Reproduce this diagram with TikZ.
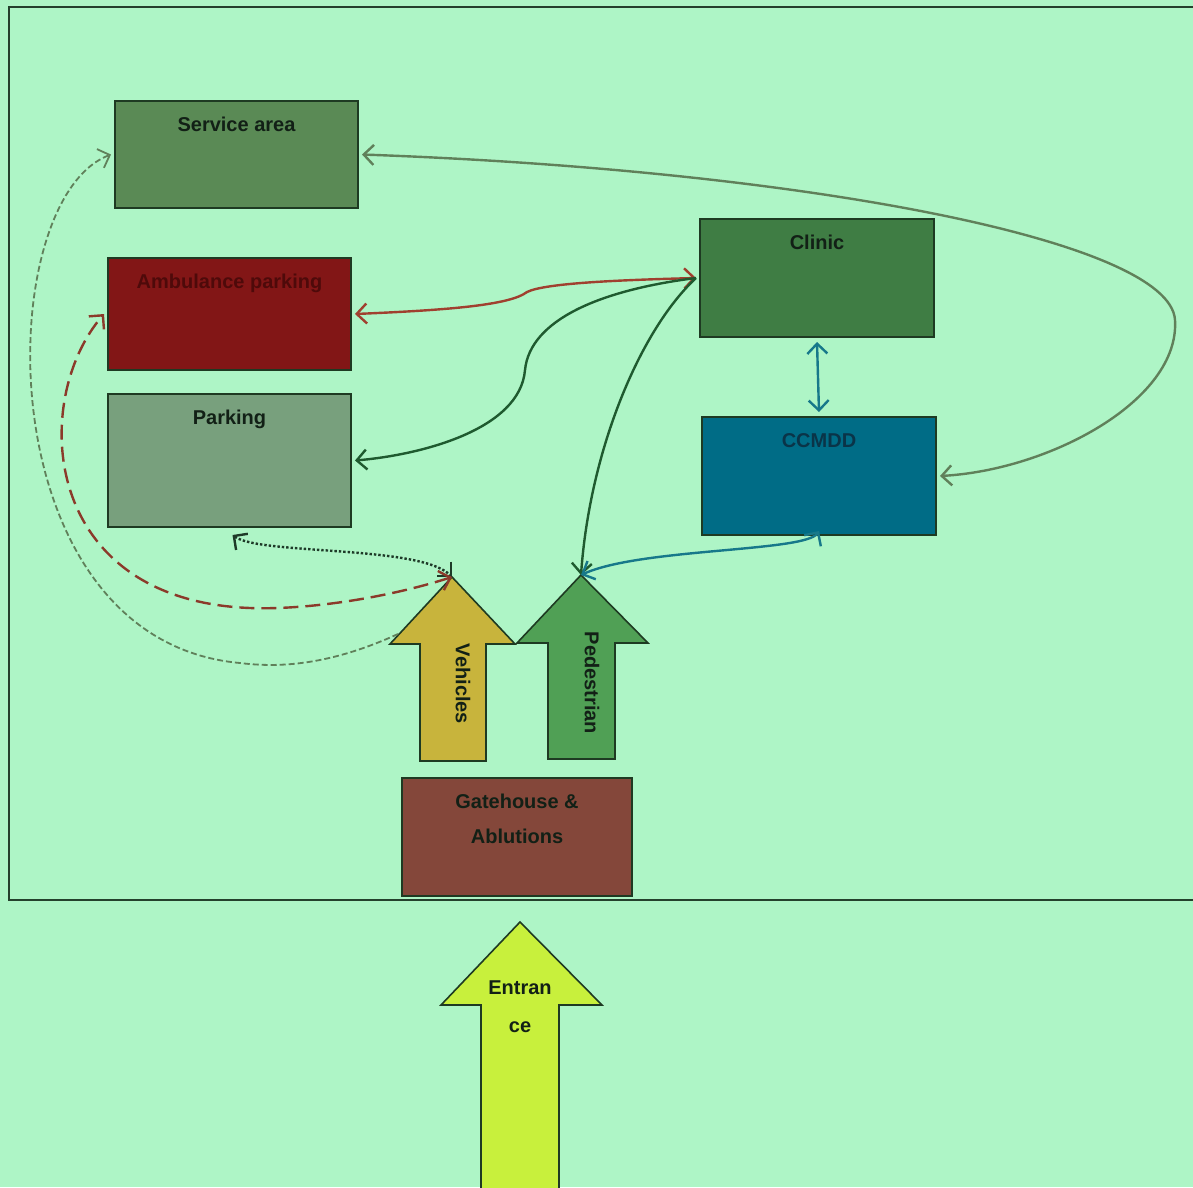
\documentclass[tikz,border=0pt]{standalone}
\usepackage{fontspec}
\setmainfont{Liberation Sans}
\usetikzlibrary{arrows.meta}
\definecolor{bg}{HTML}{AEF5C6}
\definecolor{frameline}{HTML}{24402C}
\definecolor{boxline}{HTML}{1E3A22}
\definecolor{saC}{HTML}{5A8A55}
\definecolor{ambC}{HTML}{821616}
\definecolor{parkC}{HTML}{78A07D}
\definecolor{clinicC}{HTML}{3F7D44}
\definecolor{ccmddC}{HTML}{006C86}
\definecolor{gateC}{HTML}{84473A}
\definecolor{vehC}{HTML}{C8B43C}
\definecolor{pedC}{HTML}{50A055}
\definecolor{entC}{HTML}{C8F03C}
\definecolor{txt}{HTML}{122016}
\definecolor{ambTxt}{HTML}{4E0A0A}
\definecolor{ccTxt}{HTML}{0A3448}
\definecolor{grayG}{HTML}{60805A}
\definecolor{redB}{HTML}{A0402F}
\definecolor{redD}{HTML}{8B3A2A}
\definecolor{darkG}{HTML}{1F5A2F}
\definecolor{tealL}{HTML}{17788A}
\definecolor{dotC}{HTML}{1E3A28}
\begin{document}
\begin{tikzpicture}[x=1pt,y=-1pt,
  box/.style={draw=boxline, line width=2pt, inner sep=0pt},
  lbl/.style={anchor=north, yshift=-17pt, inner sep=0pt, font=\fontsize{20}{35}\selectfont\bfseries, text=txt, align=center},
  blockarrow/.style={draw=boxline, line width=1.6pt, line join=miter},
  btxt/.style={inner sep=0pt, font=\fontsize{20}{24}\selectfont\bfseries, text=txt},
  tip/.style={arrows={Straight Barb[length=10pt,width=20pt]-Straight Barb[length=10pt,width=20pt]}},
  endtip/.style={arrows={-Straight Barb[length=10pt,width=20pt]}},
  conn/.style={line width=2.4pt}
]
\fill[bg] (0,0) rectangle (1193,1187);
\useasboundingbox (0,0) rectangle (1193,1187);

% site frame (open on the right, running off the page)
\draw[frameline, line width=2.2pt] (1200,7) -- (9,7) -- (9,900) -- (1200,900);

% boxes
\node[box, fill=saC, minimum width=243pt, minimum height=107pt,
  label={[lbl]north:Service area}] (sa) at (236.5,154.5) {};
\node[box, fill=ambC, minimum width=243pt, minimum height=112pt,
  label={[lbl,text=ambTxt]north:Ambulance parking}] (amb) at (229.5,314) {};
\node[box, fill=parkC, minimum width=243pt, minimum height=133pt,
  label={[lbl]north:Parking}] (park) at (229.5,460.5) {};
\node[box, fill=clinicC, minimum width=234pt, minimum height=118pt,
  label={[lbl]north:Clinic}] (clinic) at (817,278) {};
\node[box, fill=ccmddC, minimum width=234pt, minimum height=118pt,
  label={[lbl,text=ccTxt]north:CCMDD}] (ccmdd) at (819,476) {};
\node[box, fill=gateC, minimum width=230pt, minimum height=118pt,
  label={[lbl]north:{Gatehouse \&\\Ablutions}}] (gate) at (517,837) {};

% block arrows
\draw[blockarrow, fill=vehC] (452,577) -- (515,644) -- (486,644) -- (486,761)
  -- (420,761) -- (420,644) -- (390,644) -- cycle;
\node[btxt, rotate=-90] (veh) at (463,684) {Vehicles};
\draw[blockarrow, fill=pedC] (581,575) -- (648,643) -- (615,643) -- (615,759)
  -- (548,759) -- (548,643) -- (517,643) -- cycle;
\node[btxt, rotate=-90] (ped) at (592,683) {Pedestrian};
\draw[blockarrow, fill=entC] (520,922) -- (602,1005) -- (559,1005) -- (559,1200)
  -- (481,1200) -- (481,1005) -- (441,1005) -- cycle;
\node[btxt, align=center, font=\fontsize{20}{38}\selectfont\bfseries] (ent) at (520,1007) {Entran\\ce};

\coordinate (vtip) at (452,577);
\coordinate (ptip) at (581,575);
\coordinate (vsh) at (398,634);
\coordinate (farR) at (1175,320);
\coordinate (kink) at (527,292);
\coordinate (sbend) at (525,370);
\coordinate (rbend) at (250,608);
\coordinate (gbend) at (240,663);

% connectors
\draw[conn, grayG, tip] ([xshift=3pt]sa.east) .. controls (800,170) and (1170,240) .. (farR)
  .. controls (1180,400) and (1050,470) .. ([xshift=3pt]ccmdd.east);
\draw[conn, redB, tip] ([xshift=3pt]amb.east) .. controls (450,310) and (510,305) .. (kink)
  .. controls (545,283) and (620,280) .. ([xshift=-3pt]clinic.west);
\draw[conn, darkG, endtip] ([xshift=-3pt]clinic.west) .. controls (600,290) and (530,320) .. (sbend)
  .. controls (520,430) and (420,455) .. ([xshift=3pt]park.east);
\draw[conn, darkG, endtip] ([xshift=-3pt]clinic.west) .. controls (640,330) and (590,450) .. (ptip);
\draw[conn, tealL, tip] ([yshift=5pt]ccmdd.south) .. controls (805,552) and (640,548) .. (ptip);
\draw[conn, tealL, tip] ([yshift=-4pt]clinic.south) -- ([yshift=4pt]ccmdd.north);
\draw[conn, dotC, dotted, tip] ([xshift=3pt,yshift=-7pt]park.south) .. controls (260,555) and (420,545) .. (vtip);
\draw[conn, redD, dash pattern=on 15pt off 7pt, tip] (vtip) .. controls (380,600) and (300,610) .. (rbend)
  .. controls (40,600) and (30,400) .. ([xshift=-3pt]amb.west);
\draw[line width=1.8pt, grayG, dash pattern=on 6pt off 3pt, arrows={-Straight Barb[length=10pt,width=20pt]}]
  (vsh) .. controls (330,665) and (280,668) .. (gbend)
  .. controls (-15,640) and (-10,200) .. ([xshift=-3pt]sa.west);
\end{tikzpicture}
\end{document}
